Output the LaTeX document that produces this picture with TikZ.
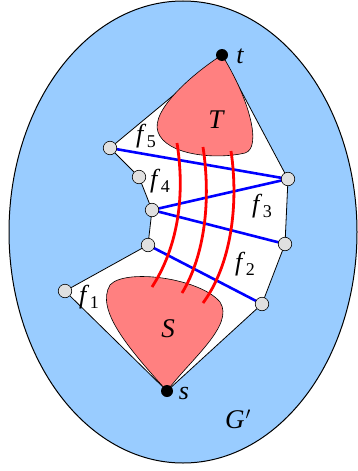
\documentclass[tikz,border=0pt]{standalone}
\usepackage{fontspec}
\setmainfont{Liberation Serif}
\usepackage{tikz}
\definecolor{gbg}{HTML}{99CCFF}
\definecolor{regred}{HTML}{FF8080}
\definecolor{vgray}{HTML}{E0E0E0}
\newcommand{\fl}[1]{\textit{f}\kern0.5pt\raisebox{-5.5pt}{\fontsize{18}{18}\selectfont #1}}
\begin{document}
\begin{tikzpicture}[x=1pt,y=-1pt,
  vtx/.style={circle,draw=black,fill=vgray,line width=0.6pt,minimum size=13.5pt,inner sep=0pt},
  term/.style={circle,fill=black,minimum size=12pt,inner sep=0pt},
  lbl/.style={inner sep=0pt,font=\fontsize{26}{30}\selectfont\itshape},
  biglbl/.style={inner sep=0pt,font=\fontsize{27}{31}\selectfont\itshape},
  flbl/.style={inner sep=0pt,font=\fontsize{26}{30}\selectfont},
  cutedge/.style={blue,line width=2.6pt},
  flow/.style={red,line width=2.8pt},
  region/.style={draw=black,fill=regred,line width=0.6pt}]
\useasboundingbox (0,0) rectangle (358,471);
\draw[fill=gbg,line width=1pt] (183,232) ellipse [x radius=174, y radius=231];
% coordinates
\coordinate (t) at (222,55);
\coordinate (s) at (167,391);
\coordinate (a1) at (65,291);
\coordinate (a2) at (148,245);
\coordinate (a3) at (152,210);
\coordinate (a4) at (139,177);
\coordinate (a5) at (110,148);
\coordinate (b1) at (288,179);
\coordinate (b2) at (285,244);
\coordinate (b3) at (262,304);
% polygon
\draw[fill=white,line width=0.8pt] (s) -- (a1) -- (a2) -- (a3) -- (a4) -- (a5) -- (t) -- (b1) -- (b2) -- (b3) -- cycle;
% regions
\draw[region] (t) .. controls (195,72) and (150,110) .. (158,132) .. controls (166,155) and (215,160) .. (245,153) .. controls (262,148) and (250,100) .. (t);
\draw[region] (s) .. controls (130,350) and (95,310) .. (110,285) .. controls (125,268) and (200,278) .. (220,302) .. controls (235,325) and (190,360) .. (s);
% blue edges
\draw[cutedge] (a5) -- (b1);
\draw[cutedge] (b1) -- (a3);
\draw[cutedge] (a3) -- (b2);
\draw[cutedge] (a2) -- (b3);
% red paths
\draw[flow] (177,143) .. controls (186,200) and (176,250) .. (152,287);
\draw[flow] (203,147) .. controls (211,200) and (205,255) .. (182,293);
\draw[flow] (231,151) .. controls (239,205) and (231,265) .. (203,303);
% vertices
\node[vtx] (v1) at (a1) {};
\node[vtx] (v2) at (a2) {};
\node[vtx] (v3) at (a3) {};
\node[vtx] (v4) at (a4) {};
\node[vtx] (v5) at (a5) {};
\node[vtx] (w1) at (b1) {};
\node[vtx] (w2) at (b2) {};
\node[vtx] (w3) at (b3) {};
\node[term] (tn) at (t) {};
\node[term] (sn) at (s) {};
% labels
\node[lbl] (tl) at (240,56) {t};
\node[lbl] (sl) at (184,393) {s};
\node[biglbl] (Tl) at (216,120) {T};
\node[biglbl] (Sl) at (168,329) {S};
\node[biglbl] (Gl) at (238,419) {G\kern1pt\raisebox{0pt}{\upshape\fontsize{24}{24}\selectfont$'$}};
\node[flbl] (f1) at (89,297) {\fl{1}};
\node[flbl] (f2) at (245,264) {\fl{2}};
\node[flbl] (f3) at (262,206) {\fl{3}};
\node[flbl] (f4) at (160,181) {\fl{4}};
\node[flbl] (f5) at (146,136) {\fl{5}};
\end{tikzpicture}
\end{document}
